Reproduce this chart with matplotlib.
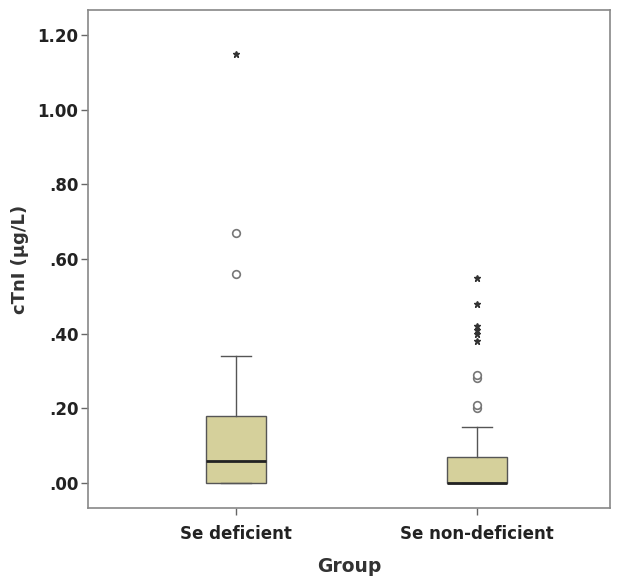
import matplotlib
matplotlib.use("Agg")
import matplotlib.pyplot as plt

plt.rcParams['font.family'] = ['DejaVu Sans']

groups = ["Se deficient", "Se non-deficient"]
q1 = [0.00, 0.00]
medians = [0.06, 0.00]
q3 = [0.18, 0.07]
whisk_lo = [0.00, 0.00]
whisk_hi = [0.34, 0.15]
# mild outliers (circles) and extreme outliers (stars)
circles = [[0.56, 0.67], [0.20, 0.21, 0.28, 0.29]]
stars = [[1.15], [0.38, 0.40, 0.41, 0.42, 0.48, 0.55]]

yticks = [0.0, 0.2, 0.4, 0.6, 0.8, 1.0, 1.2]
ytick_labels = [".00", ".20", ".40", ".60", ".80", "1.00", "1.20"]

fig = plt.figure(figsize=(6.2, 5.77), dpi=100)
ax = fig.add_axes([0.142, 0.1196, 0.842, 0.8631])

stats = []
for i in range(len(groups)):
    stats.append({"med": medians[i], "q1": q1[i], "q3": q3[i],
                  "whislo": whisk_lo[i], "whishi": whisk_hi[i],
                  "fliers": [], "label": groups[i]})

pos = [1, 2]
ax.bxp(stats, positions=pos, widths=0.25, patch_artist=True, showfliers=False,
       boxprops=dict(facecolor="#d5d09b", edgecolor="#555555", linewidth=1.0),
       medianprops=dict(color="#222222", linewidth=2.0),
       whiskerprops=dict(color="#555555", linewidth=1.0),
       capprops=dict(color="#555555", linewidth=1.0))

for i in range(len(groups)):
    ax.plot([pos[i]] * len(circles[i]), circles[i], linestyle="none", marker="o",
            markersize=5.5, markerfacecolor="white", markeredgecolor="#777777",
            markeredgewidth=1.2)
    ax.plot([pos[i]] * len(stars[i]), stars[i], linestyle="none", marker="*",
            markersize=5, color="#333333")

ax.set_xlim(0.386, 2.552)
ax.set_ylim(-0.067, 1.267)
ax.set_yticks(yticks)
ax.set_yticklabels(ytick_labels, fontsize=12, fontweight="bold", color="#222222")
ax.set_xticks(pos)
ax.set_xticklabels(groups, fontsize=12, fontweight="bold", color="#222222")
for s in ax.spines.values():
    s.set_color("#888888")
    s.set_linewidth(1.2)
ax.tick_params(axis="both", color="#666666", length=5, width=1.0)
ax.tick_params(axis="x", pad=7)
ax.tick_params(axis="y", pad=2)

ax.set_ylabel("cTnI (µg/L)", fontsize=13, fontweight="bold", color="#333333", labelpad=6)
ax.set_xlabel("Group", fontsize=13.5, fontweight="bold", color="#333333", labelpad=10)

fig.savefig("out.png", dpi=100)
